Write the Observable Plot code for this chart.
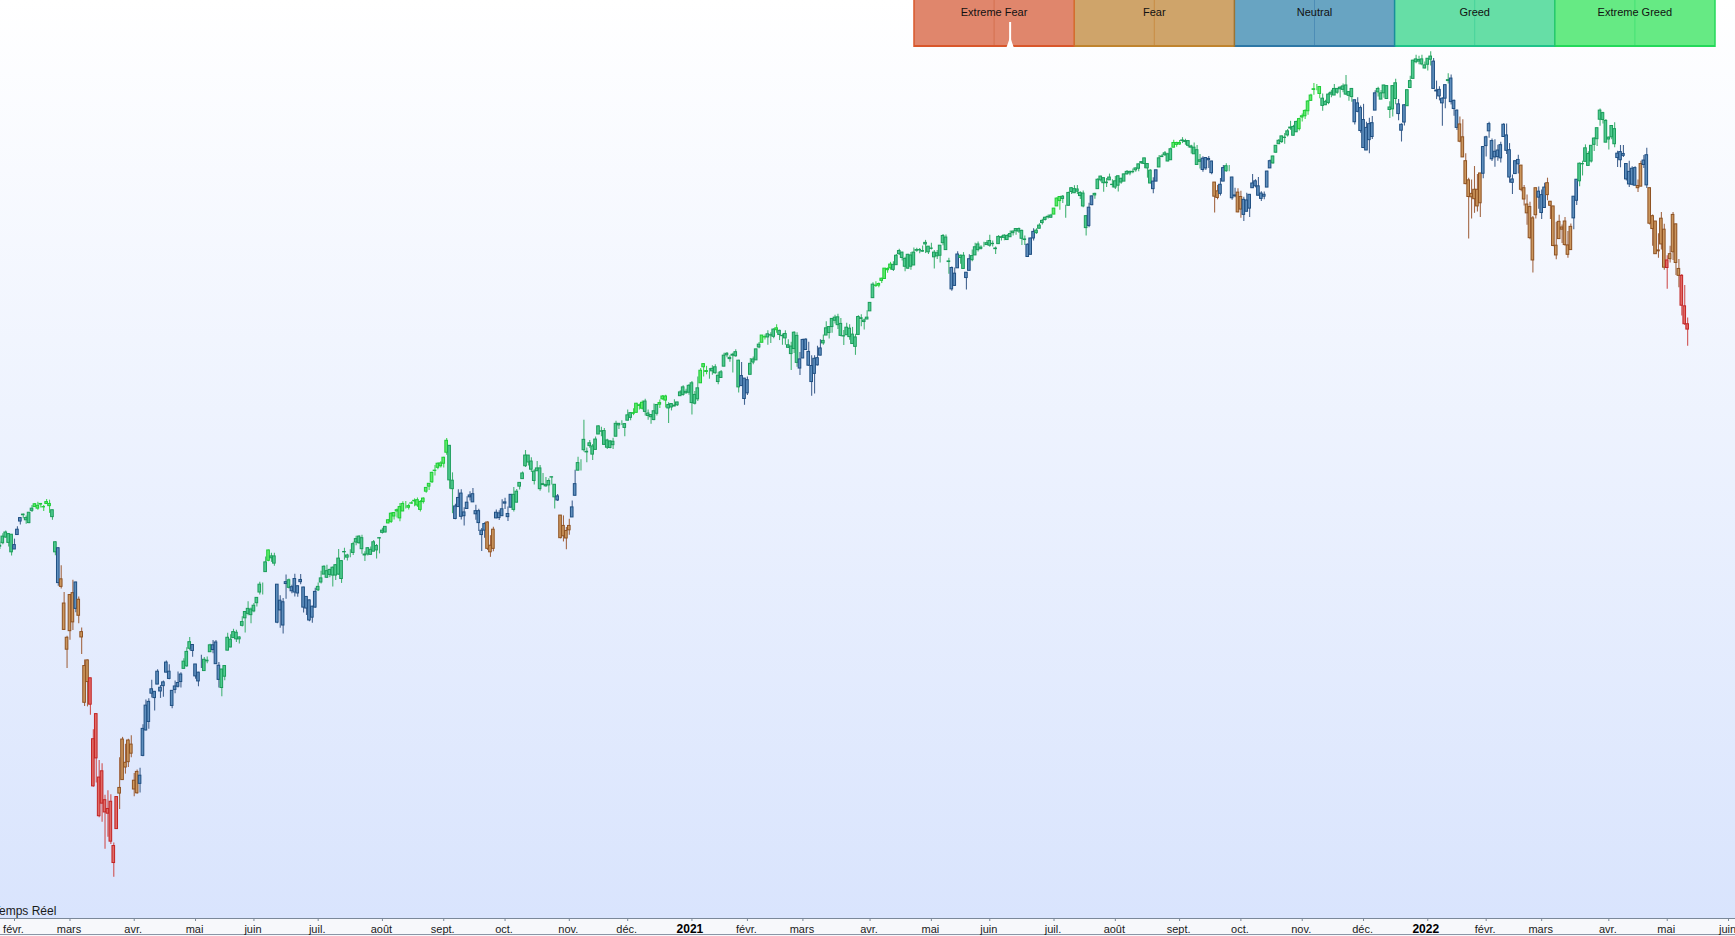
<!DOCTYPE html>
<html><head><meta charset="utf-8">
<script src="https://cdn.jsdelivr.net/npm/d3@7"></script>
<script src="https://cdn.jsdelivr.net/npm/@observablehq/plot@0.6"></script>
<style>
html,body{margin:0;padding:0;overflow:hidden;background:#fff;}
#wrap{position:relative;width:1735px;height:936px;overflow:hidden;
background:linear-gradient(to bottom,#ffffff 0px,#d9e4fd 918px,#f7f8fb 918px,#f7f8fb 936px);
font-family:"Liberation Sans",Arial,sans-serif;}
#wrap > svg{position:absolute;left:0;top:0;}
#rt{position:absolute;left:-7px;top:904px;font-size:12px;color:#1a1a1a;white-space:nowrap;}
#bl{position:absolute;left:0;top:934px;width:1735px;height:1px;background:#8a96a6;}
</style></head><body><div id="wrap"><div id="rt">Temps Réel</div><div id="bl"></div></div>
<script>
// ---- daily candles [open, high, low, close], one array per month ----
const m2020_01 = [[3247,3259,3235,3244],[3255,3285,3250,3276],[3289,3294,3271,3273],[3256,3286,3243,3284],[3282,3282,3214,3226]];
const m2020_02 = [[3235,3268,3235,3249],[3281,3307,3281,3298],[3324,3337,3313,3335],[3344,3348,3333,3346],[3335,3342,3315,3328],
[3319,3352,3317,3352],[3365,3375,3353,3358],[3370,3381,3369,3379],[3365,3385,3360,3374],[3378,3381,3367,3380],
[3369,3375,3356,3370],[3380,3394,3379,3386],[3380,3392,3350,3373],[3360,3360,3328,3338],
[3258,3260,3215,3226],[3239,3240,3118,3128],[3140,3183,3109,3116],[3063,3098,2977,2979],[2916,2959,2856,2954]];
const m2020_03 = [[2975,3091,2946,3090],[3096,3137,2977,3003],[3046,3131,3034,3130],[3075,3084,2999,3024],[2955,2985,2901,2972],
[2864,2883,2735,2747],[2813,2883,2734,2882],[2825,2825,2707,2741],[2631,2661,2478,2481],[2570,2711,2492,2711],
[2509,2563,2381,2386],[2426,2553,2367,2529],[2437,2453,2281,2398],[2394,2467,2319,2409],[2432,2454,2296,2305],
[2291,2301,2192,2237],[2345,2449,2345,2447],[2458,2572,2407,2476],[2501,2637,2501,2630],[2556,2615,2520,2541],
[2558,2631,2541,2627],[2614,2642,2572,2585]];
const m2020_04 = [[2499,2522,2448,2471],[2459,2533,2456,2527],[2515,2539,2460,2489],
[2578,2677,2575,2664],[2738,2756,2657,2659],[2686,2760,2663,2750],[2776,2819,2762,2790],
[2782,2783,2721,2762],[2805,2852,2805,2846],[2795,2802,2761,2783],[2812,2816,2765,2800],[2843,2880,2843,2875],
[2846,2868,2820,2823],[2785,2786,2728,2737],[2788,2816,2776,2799],[2810,2845,2794,2798],[2813,2843,2794,2837],
[2855,2887,2855,2878],[2909,2922,2860,2863],[2919,2955,2913,2940],[2931,2931,2892,2912]];
const m2020_05 = [[2869,2869,2822,2831],
[2815,2844,2798,2843],[2868,2898,2856,2868],[2884,2891,2847,2848],[2879,2893,2871,2881],[2908,2933,2908,2930],
[2915,2945,2903,2930],[2939,2945,2870,2870],[2865,2875,2794,2820],[2794,2853,2766,2853],[2830,2865,2817,2864],
[2913,2968,2913,2954],[2948,2964,2922,2923],[2953,2981,2953,2972],[2970,2978,2939,2949],[2949,2957,2934,2955],
[3004,3021,2988,2992],[3016,3037,2969,3036],[3046,3069,3024,3030],[3026,3049,2999,3044]];
const m2020_06 = [[3038,3063,3034,3056],[3064,3081,3052,3081],[3098,3131,3090,3123],[3112,3128,3090,3112],[3163,3211,3163,3194],
[3199,3233,3196,3232],[3213,3223,3194,3207],[3213,3223,3182,3190],[3123,3123,2999,3002],[3072,3088,2984,3041],
[2993,3079,2966,3067],[3131,3154,3077,3125],[3137,3141,3109,3113],[3102,3121,3094,3115],[3141,3156,3084,3098],
[3095,3119,3083,3118],[3138,3155,3123,3131],[3114,3115,3033,3050],[3047,3084,3025,3084],[3073,3074,3005,3009],
[3018,3054,3000,3053],[3050,3112,3048,3100]];
const m2020_07 = [[3105,3128,3101,3116],[3143,3166,3125,3130],
[3155,3183,3155,3180],[3166,3185,3143,3145],[3154,3172,3145,3170],[3177,3179,3116,3152],[3152,3187,3136,3185],
[3206,3235,3153,3155],[3141,3200,3127,3198],[3226,3239,3201,3227],[3209,3220,3198,3216],[3225,3234,3209,3225],
[3224,3258,3216,3252],[3268,3277,3247,3257],[3255,3279,3252,3276],[3271,3280,3220,3236],[3219,3228,3197,3216],
[3219,3241,3214,3239],[3234,3243,3216,3218],[3228,3264,3228,3258],[3232,3251,3205,3246],[3270,3273,3221,3271]];
const m2020_08 = [[3288,3303,3284,3295],[3289,3307,3288,3307],[3318,3330,3317,3328],[3323,3352,3318,3349],[3340,3353,3329,3351],
[3356,3364,3335,3360],[3370,3381,3323,3334],[3356,3387,3356,3380],[3373,3388,3364,3373],[3368,3379,3361,3373],
[3381,3387,3379,3382],[3388,3396,3371,3390],[3392,3399,3369,3375],[3361,3391,3354,3386],[3386,3400,3380,3397],
[3419,3432,3414,3431],[3435,3444,3423,3444],[3449,3481,3445,3479],[3486,3502,3469,3485],[3495,3510,3489,3508],
[3509,3514,3494,3500]];
const m2020_09 = [[3508,3529,3494,3527],[3543,3588,3535,3581],[3565,3565,3427,3455],[3454,3479,3349,3427],
[3372,3379,3330,3332],[3370,3425,3370,3399],[3413,3425,3329,3339],[3353,3368,3310,3341],
[3364,3403,3364,3384],[3407,3419,3389,3401],[3411,3429,3385,3385],[3347,3376,3328,3357],[3357,3363,3292,3319],
[3295,3302,3229,3281],[3295,3320,3271,3316],[3321,3323,3232,3237],[3226,3279,3210,3247],[3237,3306,3228,3298],
[3334,3361,3333,3352],[3350,3358,3327,3335],[3341,3393,3340,3363]];
const m2020_10 = [[3385,3398,3362,3381],[3338,3370,3324,3348],
[3368,3409,3368,3409],[3409,3432,3354,3361],[3384,3426,3384,3419],[3435,3448,3424,3447],[3459,3482,3459,3477],
[3500,3550,3496,3534],[3534,3534,3501,3512],[3515,3527,3480,3489],[3453,3489,3440,3483],[3493,3515,3484,3484],
[3493,3502,3420,3427],[3440,3477,3440,3443],[3440,3464,3433,3436],[3439,3460,3415,3453],[3464,3466,3440,3465],
[3441,3441,3364,3401],[3404,3410,3388,3391],[3343,3343,3269,3271],[3277,3342,3259,3310],[3294,3305,3234,3270]];
const m2020_11 = [[3296,3331,3280,3310],[3337,3389,3337,3369],[3406,3487,3405,3443],[3486,3529,3485,3510],[3509,3521,3485,3509],
[3584,3646,3545,3551],[3544,3558,3511,3546],[3564,3582,3557,3573],[3563,3569,3518,3537],[3552,3593,3552,3585],
[3601,3628,3601,3627],[3611,3624,3594,3610],[3612,3620,3567,3568],[3559,3586,3553,3582],[3579,3581,3556,3558],
[3567,3589,3553,3578],[3594,3643,3594,3635],[3635,3636,3617,3630],[3638,3645,3630,3638],
[3634,3635,3594,3622]];
const m2020_12 = [[3645,3679,3645,3662],[3654,3670,3645,3669],[3669,3683,3661,3667],[3670,3700,3670,3699],
[3694,3698,3679,3692],[3683,3708,3679,3702],[3706,3713,3660,3673],[3660,3679,3646,3668],[3656,3665,3634,3663],
[3675,3698,3645,3647],[3667,3695,3660,3695],[3696,3711,3684,3701],[3713,3725,3710,3722],[3722,3726,3685,3709],
[3684,3702,3636,3695],[3698,3698,3676,3687],[3693,3712,3690,3690],[3694,3704,3690,3703],
[3723,3740,3723,3735],[3751,3756,3723,3727],[3737,3745,3730,3732],[3734,3760,3726,3756]];
const m2021_01 = [[3764,3770,3663,3701],[3699,3738,3695,3727],[3713,3784,3706,3748],[3764,3811,3764,3804],[3815,3826,3784,3825],
[3803,3818,3791,3800],[3801,3811,3777,3801],[3802,3820,3790,3810],[3815,3823,3793,3796],[3788,3799,3759,3768],
[3781,3805,3780,3799],[3817,3860,3817,3852],[3858,3862,3845,3853],[3845,3852,3831,3841],
[3852,3860,3797,3855],[3863,3871,3847,3850],[3836,3837,3733,3751],[3755,3830,3755,3787],[3779,3779,3694,3714]];
const m2021_02 = [[3732,3784,3725,3774],[3791,3843,3791,3826],[3840,3848,3823,3830],[3837,3872,3837,3872],[3878,3894,3874,3887],
[3893,3916,3893,3916],[3910,3918,3902,3911],[3920,3931,3885,3910],[3917,3925,3891,3916],[3912,3938,3906,3935],
[3939,3950,3923,3933],[3918,3933,3900,3931],[3915,3921,3885,3914],[3921,3931,3885,3907],
[3885,3903,3875,3877],[3857,3895,3805,3881],[3873,3928,3859,3925],[3915,3925,3815,3829],[3840,3862,3789,3811]];
const m2021_03 = [[3843,3904,3843,3902],[3903,3906,3869,3870],[3864,3895,3818,3820],[3819,3852,3723,3768],[3794,3852,3730,3842],
[3844,3882,3819,3821],[3852,3903,3852,3875],[3891,3918,3885,3899],[3916,3960,3916,3939],[3924,3944,3905,3943],
[3943,3970,3923,3969],[3973,3981,3953,3963],[3949,3984,3935,3974],[3953,3970,3912,3915],[3914,3932,3884,3913],
[3917,3955,3917,3941],[3938,3950,3901,3911],[3919,3942,3889,3889],[3880,3920,3853,3910],[3918,3979,3918,3975],
[3969,3982,3944,3971],[3964,3969,3934,3959],[3967,3995,3967,3973]];
const m2021_04 = [[3993,4020,3993,4020],
[4035,4084,4034,4078],[4075,4087,4069,4074],[4075,4083,4068,4080],[4090,4098,4082,4097],[4096,4129,4095,4129],
[4124,4131,4114,4128],[4130,4149,4124,4142],[4141,4151,4120,4125],[4140,4174,4140,4170],[4175,4191,4171,4185],
[4180,4181,4153,4163],[4160,4165,4119,4135],[4129,4175,4126,4173],[4171,4180,4124,4135],[4139,4195,4139,4180],
[4186,4194,4181,4188],[4188,4193,4176,4187],[4185,4201,4181,4183],[4206,4219,4177,4211],[4199,4199,4174,4181]];
const m2021_05 = [[4192,4210,4188,4193],[4180,4187,4128,4165],[4178,4187,4158,4168],[4170,4202,4147,4202],[4210,4238,4202,4233],
[4228,4236,4187,4188],[4150,4162,4111,4152],[4131,4134,4057,4063],[4074,4131,4074,4113],[4130,4183,4130,4174],
[4170,4172,4143,4163],[4170,4180,4127,4128],[4099,4117,4061,4116],[4122,4173,4122,4159],[4169,4188,4151,4156],
[4171,4210,4171,4197],[4206,4214,4182,4188],[4192,4202,4188,4196],[4201,4213,4197,4201],[4210,4218,4203,4204]];
const m2021_06 = [[4217,4235,4197,4202],[4207,4217,4198,4208],[4191,4198,4174,4193],[4207,4234,4207,4230],
[4229,4233,4217,4227],[4234,4237,4218,4227],[4233,4238,4219,4220],[4229,4249,4229,4239],[4242,4249,4233,4247],
[4248,4255,4235,4255],[4255,4258,4241,4247],[4249,4252,4203,4224],[4220,4233,4203,4222],[4205,4208,4165,4166],
[4173,4226,4173,4225],[4225,4256,4217,4246],[4250,4256,4238,4242],[4256,4272,4256,4266],[4274,4286,4268,4281],
[4284,4293,4281,4291],[4294,4300,4287,4292],[4291,4302,4289,4298]];
const m2021_07 = [[4301,4321,4301,4320],[4327,4355,4327,4352],
[4357,4359,4315,4344],[4351,4362,4336,4358],[4321,4331,4289,4321],[4329,4372,4329,4370],
[4373,4387,4365,4385],[4382,4393,4368,4369],[4381,4394,4365,4374],[4370,4374,4349,4360],[4368,4376,4323,4327],
[4296,4298,4233,4258],[4265,4337,4259,4323],[4331,4360,4329,4359],[4362,4369,4350,4367],[4382,4415,4382,4412],
[4410,4423,4405,4422],[4417,4417,4372,4401],[4403,4416,4387,4401],[4410,4430,4410,4419],[4396,4412,4386,4395]];
const m2021_08 = [[4407,4422,4381,4387],[4393,4424,4373,4423],[4415,4417,4398,4403],[4406,4430,4406,4429],[4429,4441,4427,4437],
[4437,4439,4425,4432],[4436,4446,4431,4437],[4442,4449,4436,4448],[4447,4461,4437,4461],[4464,4468,4461,4468],
[4462,4480,4447,4480],[4462,4462,4417,4448],[4441,4444,4399,4400],[4382,4418,4367,4406],[4406,4441,4406,4442],
[4451,4489,4451,4480],[4484,4492,4483,4486],[4490,4502,4486,4496],[4493,4496,4469,4470],[4474,4513,4474,4509],
[4514,4538,4514,4529],[4529,4531,4515,4523]];
const m2021_09 = [[4529,4537,4522,4524],[4535,4546,4527,4537],[4532,4541,4522,4535],
[4535,4535,4513,4520],[4518,4522,4494,4514],[4514,4529,4492,4493],[4506,4521,4458,4459],
[4474,4492,4446,4469],[4479,4485,4436,4443],[4448,4482,4441,4481],[4478,4486,4448,4474],[4470,4471,4428,4433],
[4403,4403,4306,4358],[4375,4394,4348,4354],[4367,4416,4360,4396],[4406,4457,4406,4449],[4439,4463,4436,4455],
[4443,4457,4437,4443],[4419,4420,4347,4353],[4362,4385,4355,4359],[4371,4383,4307,4308]];
const m2021_10 = [[4317,4375,4289,4357],
[4348,4356,4279,4300],[4310,4369,4310,4346],[4320,4365,4292,4364],[4385,4429,4385,4400],[4407,4412,4386,4391],
[4391,4419,4361,4361],[4368,4374,4343,4351],[4358,4373,4348,4364],[4387,4439,4387,4438],[4448,4475,4448,4471],
[4464,4487,4461,4486],[4498,4521,4496,4520],[4525,4540,4525,4536],[4532,4550,4527,4550],[4546,4559,4525,4545],
[4553,4572,4548,4566],[4578,4598,4569,4575],[4580,4585,4551,4552],[4563,4598,4563,4596],[4573,4608,4567,4605]];
const m2021_11 = [[4610,4621,4596,4614],[4614,4635,4604,4631],[4630,4664,4617,4661],[4663,4684,4662,4680],[4700,4718,4681,4698],
[4702,4715,4695,4702],[4707,4709,4670,4685],[4670,4685,4630,4647],[4660,4665,4649,4649],[4656,4688,4651,4683],
[4689,4697,4673,4683],[4680,4715,4680,4701],[4701,4701,4684,4689],[4700,4708,4672,4705],[4709,4717,4689,4698],
[4712,4744,4680,4683],[4679,4691,4662,4691],[4675,4702,4659,4701],[4665,4665,4586,4595],
[4628,4673,4625,4655],[4640,4647,4560,4567]];
const m2021_12 = [[4602,4652,4511,4513],[4505,4595,4505,4577],[4589,4608,4495,4538],
[4548,4613,4540,4592],[4632,4695,4632,4687],[4690,4706,4675,4701],[4687,4696,4667,4667],[4687,4713,4671,4712],
[4710,4710,4667,4669],[4642,4660,4607,4634],[4636,4712,4612,4710],[4719,4732,4651,4669],[4652,4667,4600,4621],
[4587,4590,4532,4568],[4594,4651,4583,4649],[4646,4697,4645,4697],[4704,4741,4704,4726],
[4733,4792,4733,4791],[4795,4808,4781,4786],[4788,4805,4778,4793],[4795,4808,4775,4779],[4776,4787,4765,4766]];
const m2022_01 = [[4778,4797,4758,4797],[4804,4819,4774,4794],[4788,4798,4699,4701],[4693,4726,4667,4696],[4698,4708,4663,4677],
[4655,4673,4582,4670],[4670,4714,4638,4713],[4729,4749,4717,4726],[4734,4745,4650,4659],[4637,4666,4614,4663],
[4632,4634,4569,4577],[4588,4612,4530,4533],[4547,4603,4483,4483],[4471,4495,4396,4398],
[4357,4417,4223,4410],[4367,4411,4287,4356],[4380,4454,4305,4350],[4380,4429,4309,4327],[4337,4432,4292,4432],
[4431,4517,4415,4516]];
const m2022_02 = [[4519,4550,4484,4547],[4566,4595,4544,4589],[4535,4542,4470,4477],[4483,4539,4452,4501],
[4505,4522,4471,4484],[4480,4531,4465,4522],[4548,4590,4548,4587],[4553,4589,4492,4504],[4506,4527,4401,4419],
[4413,4427,4365,4402],[4430,4472,4430,4471],[4461,4490,4430,4475],[4457,4457,4374,4380],[4385,4394,4328,4349],
[4333,4363,4267,4305],[4325,4340,4221,4226],[4155,4295,4115,4289],[4299,4385,4287,4385],
[4355,4389,4318,4374]];
const m2022_03 = [[4363,4379,4285,4306],[4322,4401,4322,4387],[4401,4417,4345,4363],[4342,4343,4285,4329],
[4327,4327,4199,4201],[4202,4277,4157,4171],[4223,4299,4223,4278],[4253,4268,4209,4260],[4279,4292,4200,4204],
[4203,4247,4162,4173],[4188,4271,4187,4262],[4289,4358,4253,4358],[4345,4413,4330,4412],[4407,4465,4390,4463],
[4462,4471,4424,4461],[4469,4523,4469,4512],[4494,4501,4456,4456],[4470,4520,4465,4520],[4523,4546,4502,4543],
[4541,4576,4518,4576],[4603,4637,4582,4632],[4624,4627,4589,4602],[4599,4604,4530,4530]];
const m2022_04 = [[4540,4548,4507,4546],
[4547,4583,4539,4583],[4573,4593,4514,4525],[4495,4503,4451,4481],[4474,4521,4450,4500],[4494,4521,4483,4488],
[4462,4464,4408,4413],[4437,4471,4387,4397],[4396,4453,4393,4447],[4449,4453,4392,4393],
[4385,4411,4371,4392],[4390,4471,4390,4462],[4473,4489,4448,4459],[4490,4512,4384,4394],[4385,4386,4268,4272],
[4255,4300,4200,4296],[4279,4279,4175,4175],[4187,4240,4162,4184],[4206,4308,4188,4288],[4253,4270,4124,4132]];
const m2022_05 = [[4131,4170,4063,4155],[4159,4200,4147,4175],[4181,4308,4155,4300],[4270,4270,4107,4147],[4128,4158,4068,4106],
[4106,4110,3978,4011],[4009,4075,3948,3952],[3952,3972,3882,3935]];

// sentiment state of each candle, as runs in order: X extreme fear, F fear, N neutral, G greed, E extreme greed
const stateRuns = [["G",5],["N",3],["G",4],["E",6],["G",2],["N",1],["F",5],["N",1],["F",4],["X",10],["F",7],["N",15],
["G",3],["N",4],["G",3],["N",3],["G",16],["E",1],["G",2],["N",4],["G",1],["N",9],["G",24],["E",21],["G",2],["N",11],
["F",3],["N",6],["G",15],["N",1],["F",4],["N",2],["G",19],["E",4],["G",5],["E",3],["G",11],["E",3],["G",11],["N",3],
["G",4],["E",2],["G",3],["E",1],["G",7],["N",8],["G",18],["E",6],["G",20],["N",3],["G",2],["N",2],["G",19],["N",3],
["G",6],["E",3],["G",9],["N",2],["G",20],["N",2],["G",5],["E",3],["G",7],["N",4],["F",2],["N",2],["G",2],["N",2],
["F",2],["N",10],["G",9],["E",8],["G",11],["N",8],["G",7],["N",3],["G",9],["N",5],["G",1],["N",3],["F",8],["N",13],
["F",6],["N",3],["F",9],["N",2],["G",13],["N",7],["F",2],["N",2],["F",6],["X",1],["F",4],["X",3]];

// x-axis ticks: candle index of the first session of each month, and its label
const tickIndex = [0,19,41,62,82,104,126,147,168,190,210,232,251,270,293,314,334,356,377,399,420,441,462,484,504,523,546,566,587];
const tickLabels = ["févr.","mars","avr.","mai","juin","juil.","août","sept.","oct.","nov.","déc.","2021","févr.","mars","avr.","mai","juin","juil.","août","sept.","oct.","nov.","déc.","2022","févr.","mars","avr.","mai","juin"];

// legend
const legendLabels = ["Extreme Fear","Fear","Neutral","Greed","Extreme Greed"];
const legendFill = ["#e0866c","#cfa46a","#68a4c2","#66dea6","#66ea84"];
const legendEdge = ["#d9572b","#c0842e","#2e78a6","#20c48a","#24d95a"];
const legendMid = ["#d4714f","#c98c44","#4d8db6","#48d39c","#44e274"];
const legendSep = ["#d9572b","#d46a2a","#9b7433","#178e9b","#22c86a","#24d95a"];
const sentimentNow = 12; // pointer on 0–100 gauge

// ---- build table ----
const months = [m2020_01,m2020_02,m2020_03,m2020_04,m2020_05,m2020_06,m2020_07,m2020_08,m2020_09,m2020_10,m2020_11,m2020_12,
  m2021_01,m2021_02,m2021_03,m2021_04,m2021_05,m2021_06,m2021_07,m2021_08,m2021_09,m2021_10,m2021_11,m2021_12,
  m2022_01,m2022_02,m2022_03,m2022_04,m2022_05];
const states = stateRuns.flatMap(([s, n]) => Array(n).fill(s));
const rows = [];
let idx = -5;
for (const m of months) for (const [o,h,l,c] of m) { rows.push({i: idx, o, h, l, c, s: states[rows.length] || "G"}); idx++; }

const bodyFill = {X:"#e06a66", F:"#cb965e", N:"#5e8ebd", G:"#4fca8f", E:"#60e96c"};
const bodyEdge = {X:"#c22424", F:"#8e5222", N:"#1f4f82", G:"#1a9c5a", E:"#1ccc36"};
const wickCol  = {X:"#cf5252", F:"#a36846", N:"#456591", G:"#45b475", E:"#45d455"};

const labelOf = new Map(tickIndex.map((t, k) => [t, tickLabels[k]]));
const isYear = t => /^\d{4}$/.test(labelOf.get(t));
const monthTicks = tickIndex.filter(t => !isYear(t));
const yearTicks = tickIndex.filter(isYear);

const Y0 = 2060.4, PXPT = 0.31416;
const chart = Plot.plot({
  width: 1735, height: 936,
  marginTop: 0, marginRight: 0, marginBottom: 18, marginLeft: 0,
  style: {background: "transparent", fontFamily: "Liberation Sans, Arial, sans-serif", overflow: "visible"},
  x: {domain: [-14 / 2.92, (1735 - 14) / 2.92], axis: null},
  y: {domain: [Y0, 4982.5], axis: null},
  color: {type: "identity"},
  marks: [
    Plot.ruleY([Y0], {stroke: "#7b8899", strokeWidth: 1}),
    Plot.ruleX(tickIndex, {x: d => d, y1: Y0, y2: Y0 - 3 / PXPT, stroke: "#7b8899", strokeWidth: 1}),
    Plot.text(monthTicks, {x: d => d, y: Y0, dy: 10.5, dx: -1, text: d => labelOf.get(d), fontSize: 11, fill: "#1a1a1a"}),
    Plot.text(yearTicks, {x: d => d, y: Y0, dy: 10.5, dx: -2, text: d => labelOf.get(d), fontSize: 12, fontWeight: "bold", fill: "#000"}),
    Plot.ruleX(rows, {x: "i", y1: d => Math.min(d.l, d.o, d.c), y2: d => Math.max(d.h, d.o, d.c),
      stroke: d => wickCol[d.s], strokeWidth: 1.1}),
    Plot.rect(rows, {x1: d => d.i - 0.45, x2: d => d.i + 0.45, y1: "o", y2: "c",
      fill: d => bodyFill[d.s], stroke: d => bodyEdge[d.s], strokeWidth: 1})
  ]
});
document.getElementById("wrap").appendChild(chart);

// ---- legend gauge ----
const L0 = 914, BW = 160.2, BH = 47;
const lg = d3.select("#wrap").append("svg").attr("width", 1735).attr("height", 60)
  .style("position", "absolute").style("left", "0px").style("top", "0px");
legendLabels.forEach((lab, k) => {
  const x = L0 + k * BW;
  lg.append("rect").attr("x", x).attr("y", 0).attr("width", BW).attr("height", BH).attr("fill", legendFill[k]);
  lg.append("line").attr("x1", x + BW / 2).attr("x2", x + BW / 2).attr("y1", 0).attr("y2", BH)
    .attr("stroke", legendMid[k]).attr("stroke-width", 1);
  lg.append("rect").attr("x", x).attr("y", BH - 2).attr("width", BW).attr("height", 2).attr("fill", legendEdge[k]);
  lg.append("text").attr("x", x + BW / 2).attr("y", 16).attr("text-anchor", "middle")
    .attr("font-family", "Liberation Sans, Arial, sans-serif").attr("font-size", 11).attr("fill", "#111").text(lab);
});
legendSep.forEach((c, k) => {
  const x = L0 + k * BW;
  lg.append("line").attr("x1", x).attr("x2", x).attr("y1", 0).attr("y2", BH)
    .attr("stroke", c).attr("stroke-width", 1.5);
});
const px = L0 + sentimentNow / 100 * 5 * BW;
lg.append("line").attr("x1", px).attr("x2", px).attr("y1", 22).attr("y2", 42).attr("stroke", "#fff").attr("stroke-width", 2);
lg.append("path").attr("d", `M${px - 3.5},${BH} L${px},${BH - 10} L${px + 3.5},${BH} Z`).attr("fill", "#fff");
</script></body></html>
